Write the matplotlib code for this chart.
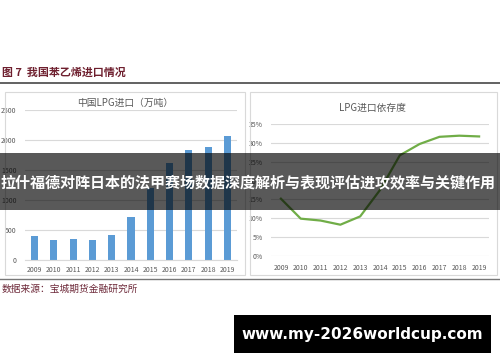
import matplotlib
matplotlib.use("Agg")
import matplotlib.pyplot as plt
from matplotlib.patches import Rectangle
from matplotlib.lines import Line2D

plt.rcParams['font.family'] = ['Noto Sans CJK SC', 'DejaVu Sans']

years = ['2009', '2010', '2011', '2012', '2013', '2014', '2015', '2016', '2017', '2018', '2019']
imports = [408, 327, 345, 335, 425, 720, 1200, 1610, 1840, 1890, 2060]
dependency = [0.152, 0.099, 0.094, 0.083, 0.105, 0.175, 0.267, 0.297, 0.316, 0.319, 0.317]
left_yticks = [0, 500, 1000, 1500, 2000, 2500]
right_yticks = [0, 0.05, 0.10, 0.15, 0.20, 0.25, 0.30, 0.35]

W, H = 500, 362
fig = plt.figure(figsize=(5, 3.62), dpi=100)
fig.patch.set_facecolor('white')

def fx(x):
    return x / W

def fy(y):
    return 1 - y / H

grid_c = '#D9D9D9'
txt_c = '#595959'

# header
fig.text(fx(2), fy(73), '图 7  我国苯乙烯进口情况', fontsize=7.9, fontweight='bold',
         color='#6E1F2E', ha='left', va='center')
fig.add_artist(Line2D([0, 1], [fy(83), fy(83)], color='#555555', lw=1.3))
fig.add_artist(Line2D([0, 1], [fy(279), fy(279)], color='#777777', lw=1.0))
fig.text(fx(2), fy(289), '数据来源：宝城期货金融研究所', fontsize=7,
         color='#6E2A3A', ha='left', va='center')

# panel frames
for x0, x1 in [(5, 245), (250, 497)]:
    fig.add_artist(Rectangle((fx(x0), fy(275)), fx(x1 - x0), (275 - 92) / H,
                             transform=fig.transFigure, fill=False,
                             edgecolor=grid_c, lw=0.8))

# left chart
ax1 = fig.add_axes([fx(25), fy(260), fx(237 - 25), (260 - 110) / H])
xs = list(range(len(years)))
ax1.bar(xs, imports, width=0.37, color='#5B9BD5', zorder=2)
ax1.set_ylim(0, 2500)
ax1.set_xlim(-0.5, 10.5)
ax1.set_yticks(left_yticks)
ax1.set_yticklabels([str(v) for v in left_yticks])
ax1.set_xticks(xs)
ax1.set_xticklabels(years)
ax1.yaxis.grid(True, color=grid_c, lw=0.8, zorder=0)
ax1.set_axisbelow(True)
for s in ax1.spines.values():
    s.set_visible(False)
ax1.spines['bottom'].set_visible(True)
ax1.spines['bottom'].set_color(grid_c)
ax1.tick_params(length=0, labelsize=5, colors=txt_c, pad=4)
ax1.tick_params(axis='y', pad=6)
fig.text(fx(125), fy(103), '中国LPG进口（万吨）', fontsize=7, color=txt_c,
         ha='center', va='center')

# right chart
ax2 = fig.add_axes([fx(271), fy(256), fx(489 - 271), (256 - 124) / H])
ax2.plot(xs, dependency, color='#70AD47', lw=1.6, zorder=3)
ax2.set_ylim(0, 0.35)
ax2.set_xlim(-0.5, 10.5)
ax2.set_yticks(right_yticks)
ax2.set_yticklabels(['%d%%' % round(v * 100) for v in right_yticks])
ax2.set_xticks(xs)
ax2.set_xticklabels(years)
ax2.yaxis.grid(True, color=grid_c, lw=0.8, zorder=0)
ax2.set_axisbelow(True)
for s in ax2.spines.values():
    s.set_visible(False)
ax2.tick_params(length=0, labelsize=5, colors=txt_c, pad=6)
fig.text(fx(372), fy(108), 'LPG进口依存度', fontsize=7, color=txt_c,
         ha='center', va='center')

# overlay banner
fig.add_artist(Rectangle((0, fy(210)), 1, (210 - 153) / H, transform=fig.transFigure,
                         facecolor='black', alpha=0.65, edgecolor='none', zorder=10))
fig.text(0.497, fy(183), '拉什福德对阵日本的法甲赛场数据深度解析与表现评估进攻效率与关键作用',
         fontsize=10.85, fontweight='bold', color='white', ha='center', va='center', zorder=11)

# watermark box
fig.add_artist(Rectangle((fx(234), fy(353)), fx(491 - 234), (353 - 315) / H,
                         transform=fig.transFigure, facecolor='black', edgecolor='none', zorder=10))
fig.text(fx(362), fy(334), 'www.my-2026worldcup.com', fontsize=11, fontweight='bold',
         color='white', ha='center', va='center', zorder=11, family='DejaVu Sans')

fig.savefig('out.png', dpi=100)
